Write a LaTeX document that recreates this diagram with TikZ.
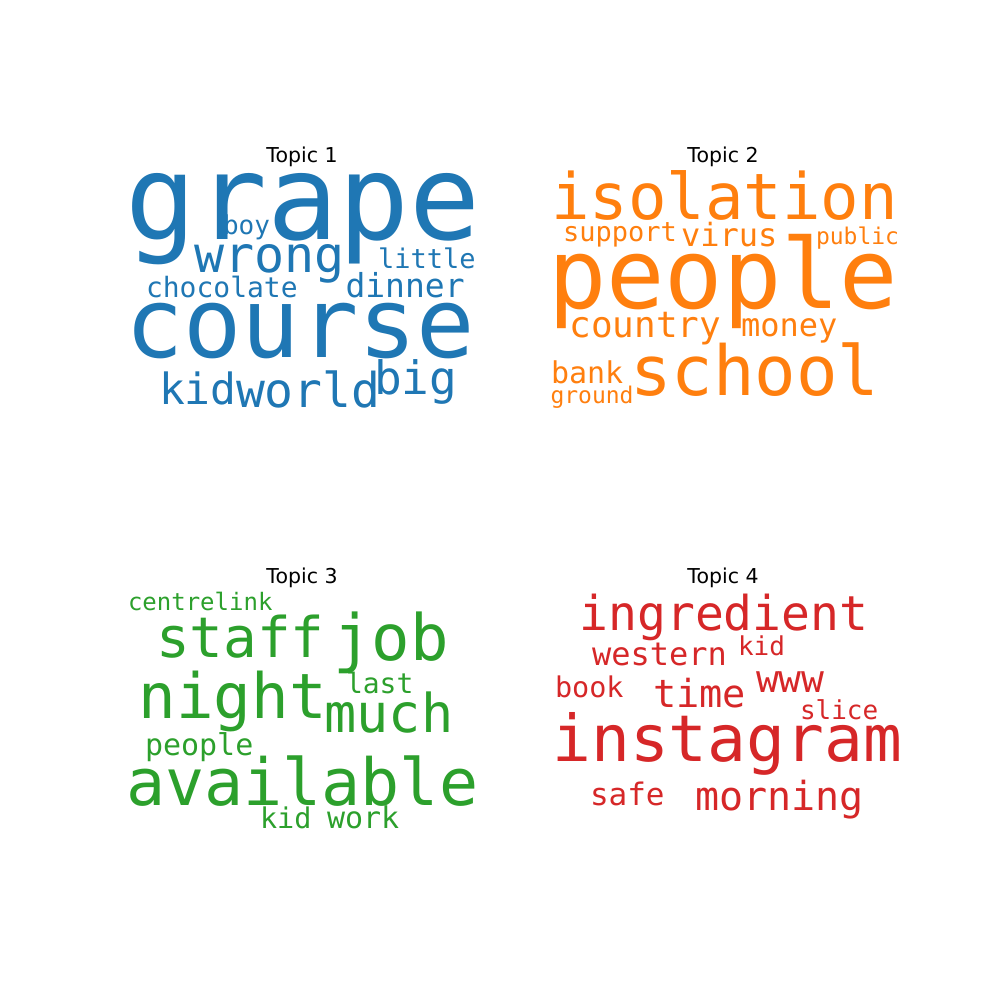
\documentclass[tikz,border=0pt]{standalone}
\usepackage{fontspec}
\setmainfont{DejaVu Sans}
\newfontfamily\wcfont{DejaVu Sans Mono}
\definecolor{tabblue}{HTML}{1F77B4}
\definecolor{taborange}{HTML}{FF7F0E}
\definecolor{tabgreen}{HTML}{2CA02C}
\definecolor{tabred}{HTML}{D62728}
\tikzset{
  wd/.style={anchor=base west, inner sep=0pt, outer sep=0pt, font={\wcfont\fontsize{#1pt}{#1pt}\selectfont}},
  ttl/.style={anchor=base, inner sep=0pt, font={\fontsize{20.5pt}{20.5pt}\selectfont}, text=black},
  c1/.style={text=tabblue}, c2/.style={text=taborange},
  c3/.style={text=tabgreen}, c4/.style={text=tabred}
}
\begin{document}
\begin{tikzpicture}[x=1pt,y=-1pt]
\useasboundingbox[fill=white] (0,0) rectangle (1000,1000);
% Topic 1
\node[ttl] (t1) at (302,163) {Topic 1};
\node[wd=118,c1] (a1) at (125,240) {grape};
\node[wd=50,c1] (a2) at (194,272) {wrong};
\node[wd=26,c1] (a3) at (223,234) {boy};
\node[wd=27,c1] (a4) at (378,268) {little};
\node[wd=28,c1] (a5) at (146,297) {chocolate};
\node[wd=33,c1] (a6) at (345.5,297) {dinner};
\node[wd=97,c1] (a7) at (125,357) {course};
\node[wd=43,c1] (a8) at (159,404) {kid};
\node[wd=48,c1] (a9) at (236,407) {world};
\node[wd=46,c1] (a10) at (374,394) {big};
% Topic 2
\node[ttl] (t2) at (723,163) {Topic 2};
\node[wd=64,c2] (b1) at (551,220) {isolation};
\node[wd=27,c2] (b2) at (563,241) {support};
\node[wd=32,c2] (b3) at (681,247) {virus};
\node[wd=23,c2] (b4) at (816,244) {public};
\node[wd=97,c2] (b5) at (548,308) {people};
\node[wd=36,c2] (b6) at (569.5,337) {country};
\node[wd=32,c2] (b7) at (741,336) {money};
\node[wd=30,c2] (b8) at (551,383) {bank};
\node[wd=69,c2] (b9) at (630,395) {school};
\node[wd=23,c2] (b10) at (550.5,403) {ground};
% Topic 3
\node[ttl] (t3) at (302,583) {Topic 3};
\node[wd=24,c3] (g1) at (128,610) {centrelink};
\node[wd=56,c3] (g2) at (156,657) {staff};
\node[wd=64,c3] (g3) at (333,660) {job};
\node[wd=62.5,c3] (g4) at (138.5,718) {night};
\node[wd=28,c3] (g5) at (346,693) {last};
\node[wd=53.5,c3] (g6) at (324.5,732) {much};
\node[wd=30,c3] (g7) at (145,755) {people};
\node[wd=65,c3] (g8) at (126,805) {available};
\node[wd=28.5,c3] (g9) at (260,828) {kid};
\node[wd=30,c3] (g10) at (327,828) {work};
% Topic 4
\node[ttl] (t4) at (723,583) {Topic 4};
\node[wd=48,c4] (r1) at (579.5,630) {ingredient};
\node[wd=32,c4] (r2) at (592,665) {western};
\node[wd=26,c4] (r3) at (738,655) {kid};
\node[wd=38,c4] (r4) at (756,692) {www};
\node[wd=28.5,c4] (r5) at (555,697) {book};
\node[wd=38.6,c4] (r6) at (653,707) {time};
\node[wd=26,c4] (r7) at (800,719) {slice};
\node[wd=64.5,c4] (r8) at (552.5,761) {instagram};
\node[wd=31,c4] (r9) at (590,805) {safe};
\node[wd=40,c4] (r10) at (695.5,810) {morning};
\end{tikzpicture}
\end{document}
